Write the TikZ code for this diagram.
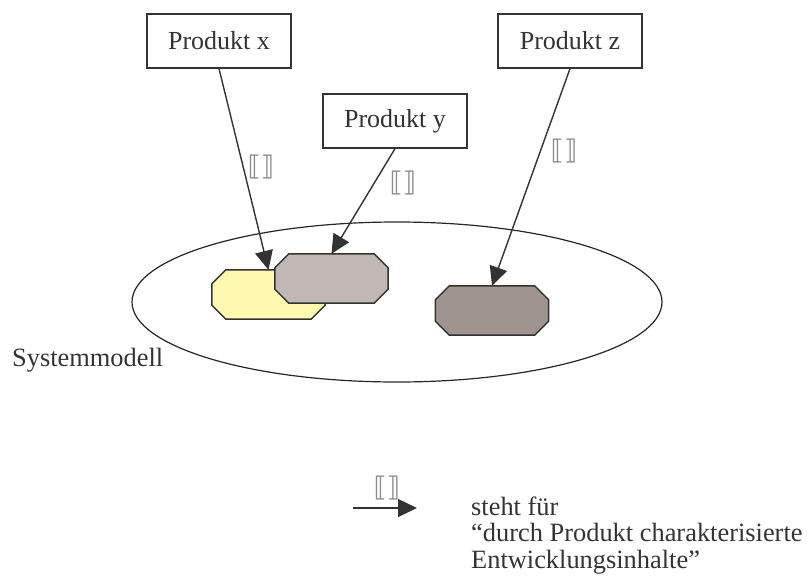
\documentclass[tikz,border=0pt]{standalone}
\usepackage{fontspec}
\setmainfont{Liberation Serif}
\newfontfamily\symfont{DejaVu Sans}
\usetikzlibrary{arrows.meta,calc,shapes.geometric}

\definecolor{linegray}{HTML}{333333}
\definecolor{paleyellow}{HTML}{FFF8B0}
\definecolor{stonelight}{HTML}{C0B8B4}
\definecolor{stonedark}{HTML}{A09490}
\definecolor{bracketgray}{HTML}{8A8A8A}

\tikzset{
  prodbox/.style={draw=linegray, line width=1.3pt, fill=white, inner sep=0pt,
    minimum width=144pt, minimum height=54pt,
    font=\fontsize{26}{28}\selectfont, text=black!80},
  slot/.style={inner sep=0pt, minimum width=113pt, minimum height=49pt},
  octfill/.style={draw=linegray, line width=1.5pt, line join=miter},
  flow/.style={draw=linegray, line width=1.4pt,
    -{Triangle[length=19pt,width=18pt]}},
  marker/.style={font=\symfont\fontsize{27}{27}\selectfont, text=bracketgray},
  caption/.style={font=\fontsize{26.4}{26.5}\selectfont, text=black!80, inner sep=0pt}
}

% octagon with chamfered corners drawn round a named slot node
\newcommand{\chamferbox}[2]{%
  \path[octfill, fill=#2]
    ($(#1.north west)+(14pt,0)$) -- ($(#1.north east)+(-14pt,0)$) --
    ($(#1.north east)+(0,-14pt)$) -- ($(#1.south east)+(0,14pt)$) --
    ($(#1.south east)+(-14pt,0)$) -- ($(#1.south west)+(14pt,0)$) --
    ($(#1.south west)+(0,14pt)$) -- ($(#1.north west)+(0,-14pt)$) -- cycle;}

\begin{document}
\begin{tikzpicture}[x=1pt,y=-1pt]
  \useasboundingbox (0,0) rectangle (807,584);

  % system model boundary
  \node[draw=black!85, line width=1.2pt, ellipse, minimum width=530pt,
        minimum height=160pt, inner sep=0pt] (sys) at (397,302) {};
  \node[caption, anchor=base west] (syslabel) at (12,366) {Systemmodell};

  % content blocks inside the model
  \node[slot] (cx) at (268.5,294.5) {};
  \chamferbox{cx}{paleyellow}
  \node[slot] (cy) at (331.5,278.5) {};
  \chamferbox{cy}{stonelight}
  \node[slot] (cz) at (492,310.5) {};
  \chamferbox{cz}{stonedark}

  % products
  \node[prodbox] (px) at (219,41) {Produkt x};
  \node[prodbox] (py) at (395,121) {Produkt y};
  \node[prodbox] (pz) at (570,41) {Produkt z};

  % characterising relations
  \draw[flow] (px.south) -- (cx.north);
  \draw[flow] (py.south) -- (cy.north);
  \draw[flow] (pz.south) -- (cz.north);
  \node[marker] (mx) at (261,167) {⟦⟧};
  \node[marker] (my) at (403,183) {⟦⟧};
  \node[marker] (mz) at (564,151) {⟦⟧};

  % legend
  \coordinate (lstart) at (353,508);
  \coordinate (lend) at (417,508);
  \draw[flow] (lstart) -- (lend);
  \node[marker] (lm) at (387,488) {⟦⟧};
  \node[caption, anchor=base west, align=left] (legend) at (471,568)
    {steht für\\“durch Produkt charakterisierte\\Entwicklungsinhalte”};
\end{tikzpicture}
\end{document}
